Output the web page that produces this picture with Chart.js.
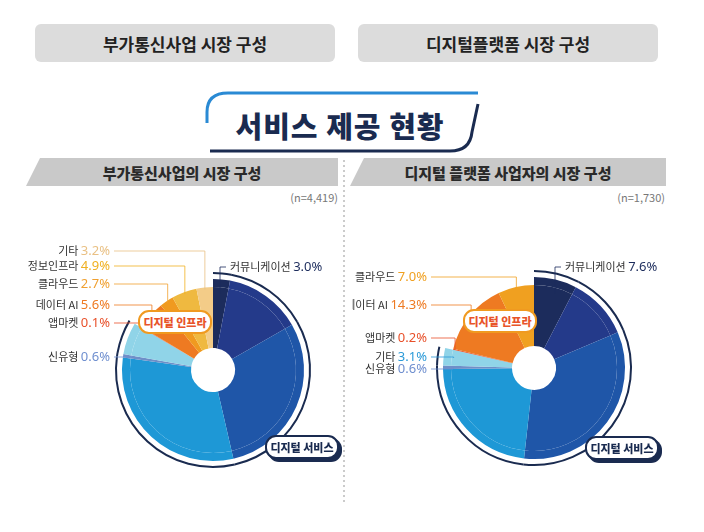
<!DOCTYPE html>
<html><head><meta charset="utf-8">
<script src="https://cdn.jsdelivr.net/npm/chart.js@4"></script>
<style>
body{margin:0;width:704px;height:532px;background:#fff;position:relative;font-family:"Noto Sans CJK KR","Noto Sans",sans-serif;overflow:hidden}
.box{position:absolute;top:24px;height:38px;background:#dcdcdc;border-radius:6px;font-weight:bold;font-size:17px;color:#222;display:flex;align-items:center;justify-content:center}
.band{position:absolute;top:158px;height:28px;background:#c9c9c9;font-weight:900;font-size:15px;color:#2a2a2a;display:flex;align-items:center;justify-content:center;clip-path:polygon(14px 0,100% 0,100% 100%,0 100%)}
.n{position:absolute;top:189px;font-size:11px;color:#777}
.pill{position:absolute;height:20px;border-radius:11px;background:#fff;font-weight:900;font-size:11px;display:flex;align-items:center;justify-content:center;transform:translate(-50%,-50%)}
canvas{position:absolute}
</style></head><body>
<div class="box" style="left:35px;width:300px">부가통신사업 시장 구성</div>
<div class="box" style="left:358px;width:300px">디지털플랫폼 시장 구성</div>
<svg style="position:absolute;left:0;top:0" width="704" height="532">
  <path d="M207 123 L207 112 Q207 93 228 93 L478 93" stroke="#2a8ad4" stroke-width="3" fill="none"/>
  <path d="M210 151 L450 151 Q470 151 472 132 L478 104" stroke="#1a2b50" stroke-width="3" fill="none"/>
  <line x1="344" y1="160" x2="344" y2="505" stroke="#bbb" stroke-width="1.5" stroke-dasharray="2,3"/>
</svg>
<div style="position:absolute;left:200px;width:280px;top:104px;text-align:center;font-size:29px;font-weight:900;color:#1a2b50;letter-spacing:1px">서비스 제공 현황</div>
<div class="band" style="left:26px;width:312px">부가통신사업의 시장 구성</div>
<div class="band" style="left:350px;width:316px">디지털 플랫폼 사업자의 시장 구성</div>
<div class="n" style="right:366px">(n=4,419)</div>
<div class="n" style="right:39px">(n=1,730)</div>
<canvas id="c1" style="left:5px;top:240px" width="340" height="260"></canvas>
<canvas id="c2" style="left:352px;top:230px" width="340" height="260"></canvas>
<div class="pill" style="left:175px;top:322px;width:70px;border:2px solid #f09a20;color:#e8542a">디지털 인프라</div>
<div class="pill" style="left:500px;top:321px;width:70px;border:2px solid #f09a20;color:#e8542a">디지털 인프라</div>
<div class="pill" style="left:302px;top:447px;width:70px;border:2px solid #1a2b50;color:#1a2b50;box-shadow:3px 3px 0 #1a2b50">디지털 서비스</div>
<div class="pill" style="left:622px;top:448px;width:70px;border:2px solid #1a2b50;color:#1a2b50;box-shadow:3px 3px 0 #1a2b50">디지털 서비스</div>
<script>
// data
const leftLabels = ['커뮤니케이션','콘텐츠','서비스','재화','신유형','기타','앱마켓','데이터 AI','클라우드','정보인프라','기타'];
const leftValues = [3.0, 13.7, 29.7, 30.8, 0.6, 5.7, 0.1, 5.6, 2.7, 4.9, 3.2];
const leftColors = ['#1c2c5c','#243a8a','#1f56a8','#1e98d6','#6e8fc8','#90d4e8','#e8542a','#ee7a22','#f09a20','#efb940','#f3cc88'];
const leftInfra = [false,false,false,false,false,false,true,true,true,true,true];

const rightLabels = ['커뮤니케이션','콘텐츠','서비스','재화','신유형','기타','앱마켓','데이터 AI','클라우드'];
const rightValues = [7.6, 11.0, 33.2, 23.1, 0.6, 3.1, 0.2, 14.3, 7.0];
const rightColors = ['#1c2c5c','#243a8a','#1f56a8','#1e98d6','#6e8fc8','#90d4e8','#e8542a','#ee7a22','#f0a020'];
const rightInfra = [false,false,false,false,false,false,true,true,true];

// label layout: 'in' inside white, or outside {x,y,align,color}
const leftPlace = [
  {x:225,y:27,align:'left',color:'#1c2c5c'},'in','in','in',
  {x:105,y:117,align:'right',color:'#6f8fcf'},'in',
  {x:105,y:83,align:'right',color:'#e8502a'},
  {x:105,y:65,align:'right',color:'#ee7a22'},
  {x:105,y:44,align:'right',color:'#f0a030'},
  {x:105,y:26,align:'right',color:'#f0b020'},
  {x:105,y:11,align:'right',color:'#e9c084'}];
const rightPlace = [
  {x:213,y:37,align:'left',color:'#1c2c5c'},'in','in','in',
  {x:75,y:139,align:'right',color:'#6f8fcf'},
  {x:75,y:127,align:'right',color:'#2a9ad8'},
  {x:75,y:108,align:'right',color:'#e8502a'},
  {x:75,y:75,align:'right',color:'#ee7a22'},
  {x:75,y:47,align:'right',color:'#f0a020'}];

const labelPlugin = {
  id:'labels',
  afterDatasetsDraw(chart, args, opts){
    const ctx = chart.ctx;
    const arcs = chart.getDatasetMeta(3).data;
    arcs.forEach((a, i) => {
      const p = opts.place[i];
      const v = opts.values[i].toFixed(1) + '%';
      const mid = (a.startAngle + a.endAngle) / 2;
      if (p === 'in') {
        const r = a.innerRadius + (a.outerRadius - a.innerRadius) * 0.58;
        const x = a.x + Math.cos(mid) * r, y = a.y + Math.sin(mid) * r;
        ctx.fillStyle = '#fff'; ctx.textAlign = 'center';
        ctx.font = '11px "Noto Sans CJK KR"';
        ctx.fillText(opts.labels[i], x, y - 6);
        ctx.font = '12px "Noto Sans"';
        ctx.fillText(v, x, y + 9);
        return;
      }
      ctx.textBaseline = 'middle';
      ctx.font = '13px "Noto Sans"';
      const vw = ctx.measureText(v).width;
      ctx.font = '11px "Noto Sans CJK KR"';
      const nw = ctx.measureText(opts.labels[i] + ' ').width;
      let x0 = p.align === 'right' ? p.x - vw - nw : p.x;
      ctx.textAlign = 'left'; ctx.fillStyle = '#333';
      ctx.fillText(opts.labels[i] + ' ', x0, p.y);
      ctx.font = '13px "Noto Sans"'; ctx.fillStyle = p.color;
      ctx.fillText(v, x0 + nw, p.y);
      // leader line
      const tr = a.outerRadius - 2;
      const tx = a.x + Math.cos(mid) * tr, ty = a.y + Math.sin(mid) * tr;
      ctx.strokeStyle = p.color; ctx.lineWidth = 1; ctx.globalAlpha = 0.8;
      ctx.beginPath();
      if (p.align === 'right') {
        ctx.moveTo(p.x + 4, p.y);
        ctx.lineTo(Math.max(tx, p.x + 8), p.y);
        ctx.lineTo(tx, ty);
      } else {
        ctx.moveTo(p.x - 4, p.y);
        ctx.lineTo(p.x - 10, p.y);
        ctx.lineTo(p.x - 10, ty + 4);
      }
      ctx.stroke(); ctx.globalAlpha = 1;
      ctx.textBaseline = 'alphabetic';
    });
  }
};

function makePie(id, labels, values, colors, infra, place, pad){
  const svcOnly = (c) => infra.map((f, i) => f ? 'rgba(0,0,0,0)' : (typeof c === 'string' ? c : c[i]));
  new Chart(document.getElementById(id), {
    type: 'doughnut',
    data: {
      labels: labels,
      datasets: [
        {data: values, backgroundColor: svcOnly('#1a2b50'), borderWidth: 0, weight: 2},
        {data: values, backgroundColor: 'rgba(0,0,0,0)', borderWidth: 0, weight: 5},
        {data: values, backgroundColor: svcOnly(colors), borderWidth: 0, weight: 8},
        {data: values, backgroundColor: colors, borderWidth: 0, weight: 61}
      ]
    },
    options: {
      responsive: false, animation: false, cutout: 22,
      layout: {padding: pad},
      plugins: {legend: {display: false}, tooltip: {enabled: false},
        labels: {labels: labels, values: values, place: place}}
    },
    plugins: [labelPlugin]
  });
}
makePie('c1', leftLabels, leftValues, leftColors, leftInfra, leftPlace, {left:110,right:34,top:32,bottom:32});
makePie('c2', rightLabels, rightValues, rightColors, rightInfra, rightPlace, {left:84,right:60,top:40,bottom:24});
</script>
</body></html>
